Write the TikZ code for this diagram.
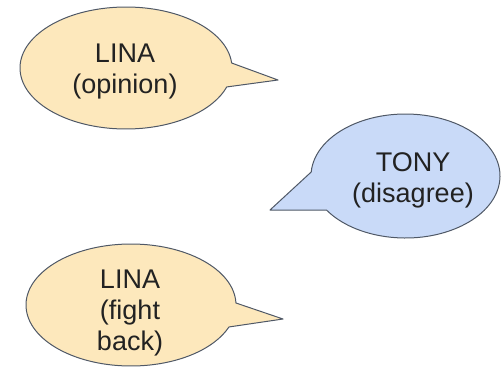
\documentclass[tikz,border=0pt]{standalone}
\usepackage{fontspec}
\setmainfont{Liberation Sans}
\usetikzlibrary{calc}
\definecolor{linafill}{HTML}{FDE8BC}
\definecolor{tonyfill}{HTML}{C9DAF8}
\definecolor{bubbleline}{HTML}{4F5866}
\definecolor{talk}{HTML}{222222}
\tikzset{
  bubble/.style={draw=bubbleline, line width=1pt, line join=round},
  linabubble/.style={bubble, fill=linafill},
  tonybubble/.style={bubble, fill=tonyfill},
  % anchored on the baseline of the last line
  speech/.style={align=center, text=talk, inner sep=0pt,
    font=\fontsize{27}{31}\selectfont, anchor=base},
}
\begin{document}
\begin{tikzpicture}[x=1pt, y=1pt]
  \useasboundingbox (0,0) rectangle (502,368);

  % Lina's opening remark, tail pointing right
  \coordinate (c1) at (126,300);
  \coordinate (tip1) at (278,288);
  \draw[linabubble] ($(c1)+(4.7:106 and 61)$)
    arc[start angle=4.7, end angle=341.9, x radius=106, y radius=61]
    -- (tip1) -- cycle;

  % Tony's reply, tail pointing left
  \coordinate (c2) at (405.5,192);
  \coordinate (tip2) at (270,158);
  \draw[tonybubble] ($(c2)+(213.3:94.5 and 62)$)
    arc[start angle=213.3, end angle=536.3, x radius=94.5, y radius=62]
    -- (tip2) -- cycle;

  % Lina's comeback, tail pointing right
  \coordinate (c3) at (131,63);
  \coordinate (tip3) at (283,49);
  \draw[linabubble] ($(c3)+(1.9:105 and 61)$)
    arc[start angle=1.9, end angle=338.9, x radius=105, y radius=61]
    -- (tip3) -- cycle;

  \node[speech] (lina1) at (125,275) {LINA\\(opinion)};
  \node[speech] (tony) at (413,166) {TONY\\(disagree)};
  \node[speech] (lina2) at (130,18) {LINA\\(fight\\back)};
\end{tikzpicture}
\end{document}
